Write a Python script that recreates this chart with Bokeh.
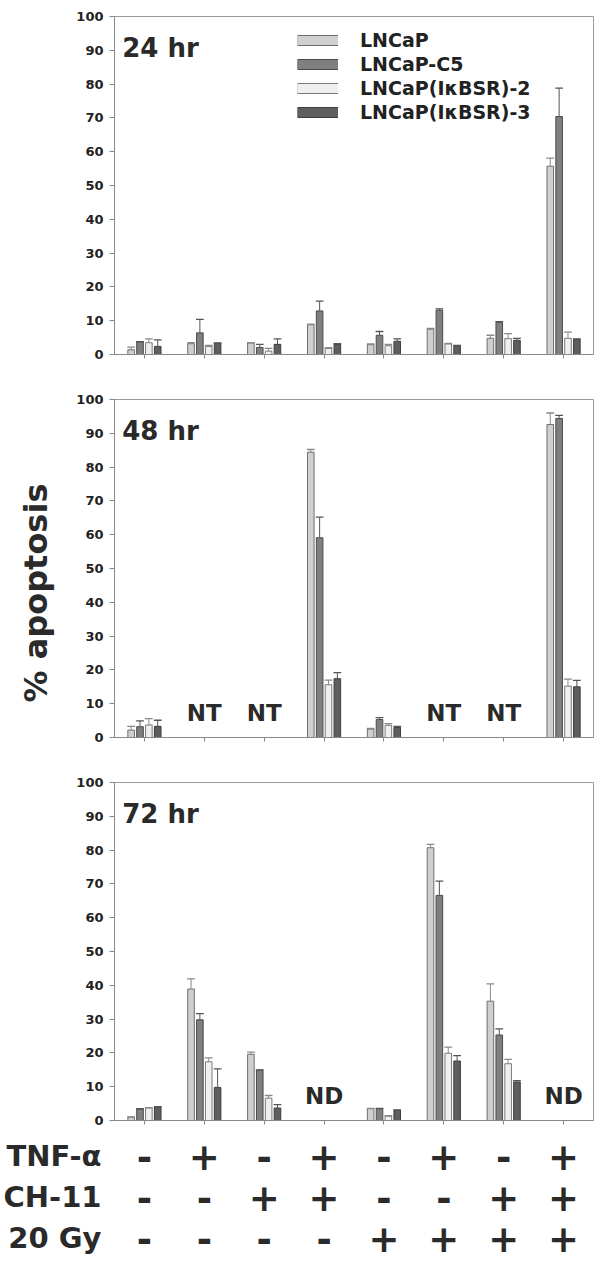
from bokeh.plotting import figure
from bokeh.models import Range1d, FixedTicker, Legend, LegendItem, Title, ColumnDataSource
from bokeh.layouts import column
from bokeh.embed import file_html
from bokeh.resources import INLINE
from bokeh.core.properties import value

nan = float("nan")

# ---------------- data ----------------
groups = [0, 1, 2, 3, 4, 5, 6, 7]
series = ["LNCaP", "LNCaP-C5", "LNCaP(I\u03baBSR)-2", "LNCaP(I\u03baBSR)-3"]
panel_titles = ["24 hr", "48 hr", "72 hr"]
y_title = "% apoptosis"
y_ticks = [0, 10, 20, 30, 40, 50, 60, 70, 80, 90, 100]

# 24 hr
h24_lncap = [1.4, 3.2, 3.4, 8.8, 2.9, 7.5, 4.8, 55.7]
h24_lncap_err = [0.8, 0.3, 0.1, 0.2, 0.2, 0.2, 0.9, 2.4]
h24_c5 = [3.7, 6.4, 2.1, 12.9, 5.7, 13.1, 9.5, 70.4]
h24_c5_err = [0.1, 4.0, 0.9, 2.9, 1.1, 0.4, 0.2, 8.4]
h24_ikb2 = [3.5, 2.4, 1.0, 1.8, 2.6, 3.1, 4.7, 4.8]
h24_ikb2_err = [1.1, 0.3, 0.8, 0.2, 0.4, 0.2, 1.5, 1.8]
h24_ikb3 = [2.4, 3.3, 3.0, 3.1, 3.9, 2.6, 4.2, 4.5]
h24_ikb3_err = [1.9, 0.1, 1.6, 0.1, 0.7, 0.1, 0.6, 0.1]
h24_notes = ["", "", "", "", "", "", "", ""]

# 48 hr (NT = not tested)
h48_lncap = [2.2, nan, nan, 84.4, 2.5, nan, nan, 92.6]
h48_lncap_err = [1.1, nan, nan, 0.8, 0.2, nan, nan, 3.4]
h48_c5 = [3.2, nan, nan, 59.1, 5.3, nan, nan, 94.4]
h48_c5_err = [1.7, nan, nan, 6.1, 0.6, nan, nan, 0.9]
h48_ikb2 = [3.7, nan, nan, 15.6, 3.6, nan, nan, 15.2]
h48_ikb2_err = [1.9, nan, nan, 1.4, 0.5, nan, nan, 2.1]
h48_ikb3 = [3.3, nan, nan, 17.4, 3.0, nan, nan, 15.0]
h48_ikb3_err = [1.8, nan, nan, 1.8, 0.3, nan, nan, 1.9]
h48_notes = ["", "NT", "NT", "", "", "NT", "NT", ""]

# 72 hr (ND = not determined)
h72_lncap = [1.0, 38.9, 19.6, nan, 3.5, 80.7, 35.3, nan]
h72_lncap_err = [0.1, 3.0, 0.6, nan, 0.1, 1.0, 5.1, nan]
h72_c5 = [3.4, 29.8, 14.9, nan, 3.5, 66.6, 25.3, nan]
h72_c5_err = [0.1, 1.8, 0.1, nan, 0.1, 4.2, 1.8, nan]
h72_ikb2 = [3.7, 17.4, 6.6, nan, 1.3, 19.9, 16.8, nan]
h72_ikb2_err = [0.1, 1.1, 0.8, nan, 0.1, 1.8, 1.3, nan]
h72_ikb3 = [4.0, 9.8, 3.7, nan, 3.0, 17.6, 11.4, nan]
h72_ikb3_err = [0.1, 5.5, 1.0, nan, 0.1, 1.6, 0.4, nan]
h72_notes = ["", "", "", "ND", "", "", "", "ND"]

treat_names = ["TNF-\u03b1", "CH-11", "20 Gy"]
tnf = ["-", "+", "-", "+", "-", "+", "-", "+"]
ch11 = ["-", "-", "+", "+", "-", "-", "+", "+"]
gy20 = ["-", "-", "-", "-", "+", "+", "+", "+"]

# ---------------- styles ----------------
FONT = "DejaVu Sans"
TXT = "#222222"
DARK = "#2a2a2a"
fills = ["#cfcfcf", "#7f7f7f", "#efefef", "#5e5e5e"]
edges = ["#6e6e6e", "#4a4a4a", "#7a7a7a", "#3e3e3e"]
errc = ["#8a8a8a", "#555555", "#8a8a8a", "#555555"]
PITCH = 0.148
BW = 0.11

panels = [
    (panel_titles[0], [h24_lncap, h24_c5, h24_ikb2, h24_ikb3],
     [h24_lncap_err, h24_c5_err, h24_ikb2_err, h24_ikb3_err], h24_notes, 16, 22),
    (panel_titles[1], [h48_lncap, h48_c5, h48_ikb2, h48_ikb3],
     [h48_lncap_err, h48_c5_err, h48_ikb2_err, h48_ikb3_err], h48_notes, 23, 22),
    (panel_titles[2], [h72_lncap, h72_c5, h72_ikb2, h72_ikb3],
     [h72_lncap_err, h72_c5_err, h72_ikb2_err, h72_ikb3_err], h72_notes, 23, 12),
]

FRAME_W = 482
FRAME_H = 338
LEFT = 111
RIGHT = 3
W = LEFT + FRAME_W + RIGHT


def style_axes(p):
    p.yaxis.major_label_text_font = FONT
    p.yaxis.major_label_text_font_style = "bold"
    p.yaxis.major_label_text_color = TXT
    p.yaxis.minor_tick_line_color = None


figs = []
for k, (title, vals, errs, notes, btop, bbot) in enumerate(panels):
    p = figure(width=W, height=btop + FRAME_H + bbot,
               x_range=Range1d(-0.5, 7.5), y_range=Range1d(0, 100),
               toolbar_location=None, output_backend="svg",
               min_border_left=LEFT, min_border_right=RIGHT,
               min_border_top=btop, min_border_bottom=bbot)
    p.grid.visible = False
    p.outline_line_color = "#9a9a9a"

    p.yaxis.ticker = FixedTicker(ticks=y_ticks)
    style_axes(p)
    p.yaxis.major_label_text_font_size = "13px"
    p.yaxis.major_label_standoff = 6
    p.yaxis.axis_line_color = "#888888"
    p.yaxis.major_tick_line_color = "#888888"
    p.yaxis.major_tick_out = 5
    p.yaxis.major_tick_in = 0

    p.xaxis.ticker = FixedTicker(ticks=groups)
    p.xaxis.major_label_text_font_size = "0px"
    p.xaxis.axis_line_color = "#888888"
    p.xaxis.major_tick_line_color = "#888888"
    p.xaxis.major_tick_out = 4
    p.xaxis.major_tick_in = 0
    p.xaxis.minor_tick_line_color = None

    for s in range(4):
        off = (s - 1.5) * PITCH
        xs = [g + off for g in groups]
        tops = vals[s]
        hi = [t + e for t, e in zip(tops, errs[s])]
        src = ColumnDataSource(dict(x=xs, top=tops, hi=hi,
                                    cl=[x - BW / 2 - 0.01 for x in xs],
                                    cr=[x + BW / 2 + 0.01 for x in xs]))
        p.vbar(x="x", top="top", bottom=0, width=BW, source=src,
               fill_color=fills[s], line_color=edges[s], line_width=1)
        p.segment(x0="x", y0="top", x1="x", y1="hi", source=src,
                  line_color=errc[s], line_width=1)
        p.segment(x0="cl", y0="hi", x1="cr", y1="hi", source=src,
                  line_color=errc[s], line_width=1.3)

    p.text(x=[-0.37], y=[90.8], text=[title], text_font=value(FONT),
           text_font_style="bold", text_font_size="26px", text_color=DARK,
           text_align="left", text_baseline="middle")

    nx = [g for g, n in zip(groups, notes) if n]
    nt = [n for n in notes if n]
    if nt:
        p.text(x=nx, y=[7.3] * len(nx), text=nt, text_font=value(FONT),
               text_font_style="bold", text_font_size="23px", text_color=DARK,
               text_align="center", text_baseline="middle")

    if k == 0:
        items = []
        for s in range(4):
            r_out = p.line(x=[nan, nan], y=[nan, nan], line_width=11, line_color=edges[s])
            r_in = p.line(x=[nan, nan], y=[nan, nan], line_width=9, line_color=fills[s])
            items.append(LegendItem(label=series[s], renderers=[r_out, r_in]))
        leg = Legend(items=items, location=(183, 231), glyph_width=41,
                     glyph_height=22, label_height=22, label_standoff=22,
                     spacing=2, padding=0, margin=0, border_line_color=None,
                     background_fill_alpha=0,
                     label_text_font=FONT, label_text_font_style="bold",
                     label_text_font_size="19px", label_text_color=TXT)
        p.add_layout(leg)
    if k == 1:
        yt = Title(text=y_title, align="left", vertical_align="top",
                   offset=35, standoff=33,
                   text_font=FONT, text_font_style="bold",
                   text_font_size="32px", text_color=DARK)
        p.add_layout(yt, "left")
    figs.append(p)

# ---------------- treatment table ----------------
rows_y = [2, 1, 0]
t = figure(width=W, height=129,
           x_range=Range1d(-0.5, 7.5), y_range=Range1d(-0.561, 2.585),
           toolbar_location=None, output_backend="svg",
           min_border_left=LEFT, min_border_right=RIGHT,
           min_border_top=0, min_border_bottom=0)
t.grid.visible = False
t.outline_line_color = None
t.xaxis.visible = False
t.yaxis.ticker = FixedTicker(ticks=rows_y)
t.yaxis.major_label_overrides = {ry: nm for ry, nm in zip(rows_y, treat_names)}
style_axes(t)
t.yaxis.major_label_text_font_size = "29px"
t.yaxis.major_label_text_color = DARK
t.yaxis.major_label_standoff = 13
t.yaxis.axis_line_color = None
t.yaxis.major_tick_line_color = None
t.yaxis.major_tick_out = 0
t.yaxis.major_tick_in = 0
for ry, signs in zip(rows_y, [tnf, ch11, gy20]):
    t.text(x=groups, y=[ry] * 8, text=signs, text_font=value(FONT),
           text_font_style="bold", text_font_size="37px", text_color=DARK,
           text_align="center", text_baseline="middle")
figs.append(t)

layout = column(*figs, spacing=0)
open("out.html", "w").write(file_html(layout, INLINE))
